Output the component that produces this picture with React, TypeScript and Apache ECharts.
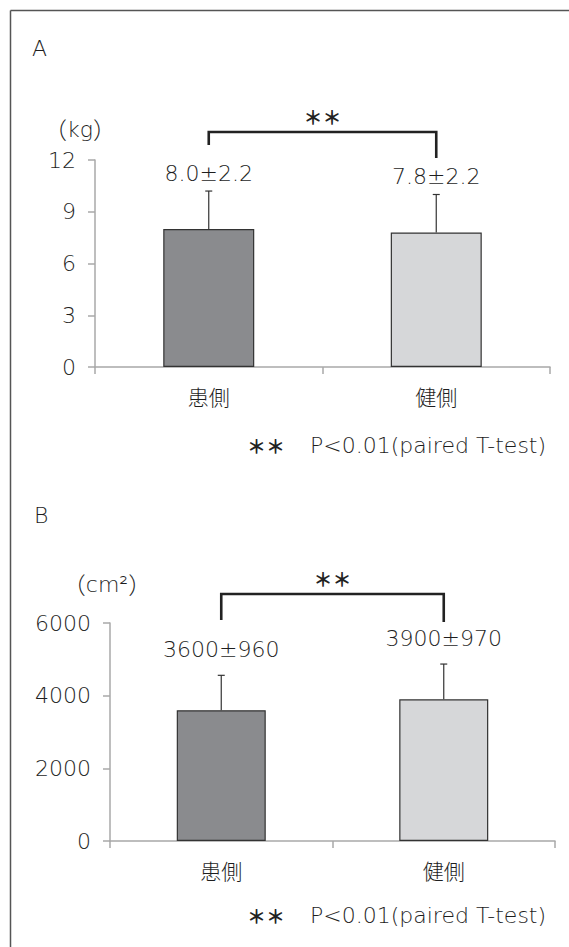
import React, { useEffect, useRef } from "react";
import * as echarts from "echarts";

const CATEGORIES = ["患側", "健側"];
const GRIP_MEAN = [8.0, 7.8];
const GRIP_SD = [2.2, 2.2];
const GRIP_LABELS = ["8.0±2.2", "7.8±2.2"];
const AREA_MEAN = [3600, 3900];
const AREA_SD = [960, 970];
const AREA_LABELS = ["3600±960", "3900±970"];
const GRIP_AXIS = { min: 0, max: 12, interval: 3 };
const AREA_AXIS = { min: 0, max: 6000, interval: 2000 };
const FOOTNOTE_STARS = "＊＊";
const FOOTNOTE_TEXT = "P<0.01(paired T-test)";

const LFONT = "'DejaVu Sans', sans-serif";
const CJK = "'Noto Sans CJK JP', sans-serif";
const LW = 200;
const TXT = "#1e1e1e";
const AXIS = "#a8a8a8";
const BAR_COLORS = ["#8a8b8e", "#d6d7d9"];

function errorRender(labels: string[], offset: number) {
  return (params: any, api: any) => {
    const idx = api.value(0);
    const mean = api.value(1);
    const sd = api.value(2);
    const p0 = api.coord([idx, mean]);
    const p1 = api.coord([idx, mean + sd]);
    return {
      type: "group",
      children: [
        { type: "line", shape: { x1: p0[0], y1: p0[1], x2: p1[0], y2: p1[1] }, style: { stroke: "#333", lineWidth: 1.2 } },
        { type: "line", shape: { x1: p1[0] - 3.5, y1: p1[1], x2: p1[0] + 3.5, y2: p1[1] }, style: { stroke: "#333", lineWidth: 1.2 } },
        {
          type: "text",
          x: p1[0],
          y: p1[1] - offset,
          style: {
            text: labels[params.dataIndex],
            fill: TXT,
            fontFamily: LFONT,
            fontSize: 22,
            fontWeight: LW,
            align: "center",
            verticalAlign: "middle",
          },
        },
      ],
    };
  };
}

function bracketRender(axisMax: number, top: number, leftEnd: number, rightEnd: number, starY: number) {
  return (params: any, api: any) => {
    const a = api.coord([api.value(0), axisMax]);
    const b = api.coord([api.value(1), axisMax]);
    const gy = a[1];
    return {
      type: "group",
      children: [
        {
          type: "polyline",
          shape: { points: [[a[0], gy + leftEnd], [a[0], gy + top], [b[0], gy + top], [b[0], gy + rightEnd]] },
          style: { stroke: "#222", lineWidth: 2.6, fill: "none" },
        },
        {
          type: "text",
          x: (a[0] + b[0]) / 2,
          y: gy + starY,
          style: {
            text: "＊＊",
            fill: "#222",
            fontFamily: CJK,
            fontSize: 19,
            fontWeight: "bold",
            align: "center",
            verticalAlign: "middle",
          },
        },
      ],
    };
  };
}

export default function App() {
  const ref = useRef<HTMLDivElement>(null);
  useEffect(() => {
    const chart = echarts.init(ref.current!, null, { renderer: "svg" });
    const xAxisBase = (gridIndex: number) => ({
      type: "category",
      gridIndex,
      data: CATEGORIES,
      axisLine: { lineStyle: { color: AXIS, width: 1.5 } },
      axisTick: { show: true, length: 7, lineStyle: { color: AXIS, width: 1.5 } },
      axisLabel: { color: TXT, fontSize: 21, fontFamily: CJK, fontWeight: 300, margin: 18 },
    });
    const yAxisBase = (gridIndex: number, ax: any) => ({
      type: "value",
      gridIndex,
      min: ax.min,
      max: ax.max,
      interval: ax.interval,
      axisLine: { show: true, lineStyle: { color: AXIS, width: 1.5 } },
      axisTick: { show: true, length: 7, lineStyle: { color: AXIS, width: 1.5 } },
      splitLine: { show: false },
      axisLabel: {
        color: TXT,
        fontSize: 22,
        fontFamily: LFONT,
        fontWeight: LW,
        margin: 19,
        formatter: (v: number) => String(v),
      },
    });
    const barData = (means: number[]) =>
      means.map((v, i) => ({
        value: v,
        itemStyle: { color: BAR_COLORS[i], borderColor: "#333", borderWidth: 1.2 },
      }));
    const lText = { fill: TXT, fontFamily: LFONT, fontSize: 22, fontWeight: LW };
    const starText = { fill: "#222", fontFamily: CJK, fontSize: 19, fontWeight: "bold" };
    const unitRich = {
      p: { fontFamily: CJK, fontSize: 23, fontWeight: 300, fill: TXT },
      t: { fontFamily: LFONT, fontSize: 22, fontWeight: LW, fill: TXT },
    };
    chart.setOption({
      animation: false,
      grid: [
        { left: 95, right: 19, top: 160, bottom: 580 },
        { left: 110, right: 14, top: 623, bottom: 106 },
      ],
      xAxis: [xAxisBase(0), xAxisBase(1)],
      yAxis: [yAxisBase(0, GRIP_AXIS), yAxisBase(1, AREA_AXIS)],
      series: [
        { type: "bar", xAxisIndex: 0, yAxisIndex: 0, barWidth: "40%", data: barData(GRIP_MEAN) },
        { type: "bar", xAxisIndex: 1, yAxisIndex: 1, barWidth: "40%", data: barData(AREA_MEAN) },
        {
          type: "custom",
          xAxisIndex: 0,
          yAxisIndex: 0,
          clip: false,
          renderItem: errorRender(GRIP_LABELS, 18),
          data: GRIP_MEAN.map((m, i) => [i, m, GRIP_SD[i]]),
          z: 5,
        },
        {
          type: "custom",
          xAxisIndex: 1,
          yAxisIndex: 1,
          clip: false,
          renderItem: errorRender(AREA_LABELS, 26),
          data: AREA_MEAN.map((m, i) => [i, m, AREA_SD[i]]),
          z: 5,
        },
        {
          type: "custom",
          xAxisIndex: 0,
          yAxisIndex: 0,
          clip: false,
          renderItem: bracketRender(GRIP_AXIS.max, -28, -15, -2, -44),
          data: [[0, 1]],
        },
        {
          type: "custom",
          xAxisIndex: 1,
          yAxisIndex: 1,
          clip: false,
          renderItem: bracketRender(AREA_AXIS.max, -29, -3, -1, -45),
          data: [[0, 1]],
        },
      ],
      graphic: [
        { type: "line", shape: { x1: 10.5, y1: 10.5, x2: 569, y2: 10.5 }, style: { stroke: "#555", lineWidth: 1.5 } },
        { type: "line", shape: { x1: 10.5, y1: 10.5, x2: 10.5, y2: 947 }, style: { stroke: "#555", lineWidth: 1.5 } },
        { type: "text", x: 32, y: 48, style: { ...lText, text: "A", verticalAlign: "middle" } },
        { type: "text", x: 34, y: 515, style: { ...lText, text: "B", verticalAlign: "middle" } },
        {
          type: "text",
          x: 80,
          y: 129,
          style: { text: "{p|（}{t|kg}{p|）}", rich: unitRich, align: "center", verticalAlign: "middle" },
        },
        {
          type: "text",
          x: 107,
          y: 584,
          style: { text: "{p|（}{t|cm²}{p|）}", rich: unitRich, align: "center", verticalAlign: "middle" },
        },
        { type: "text", x: 247, y: 445, style: { ...starText, text: FOOTNOTE_STARS, verticalAlign: "middle" } },
        { type: "text", x: 310, y: 445, style: { ...lText, text: FOOTNOTE_TEXT, verticalAlign: "middle" } },
        { type: "text", x: 247, y: 915, style: { ...starText, text: FOOTNOTE_STARS, verticalAlign: "middle" } },
        { type: "text", x: 310, y: 915, style: { ...lText, text: FOOTNOTE_TEXT, verticalAlign: "middle" } },
      ],
    });
    return () => chart.dispose();
  }, []);
  return (
    <div
      ref={ref}
      style={{ position: "fixed", left: 0, top: 0, width: 569, height: 947, background: "#fff" }}
    />
  );
}
